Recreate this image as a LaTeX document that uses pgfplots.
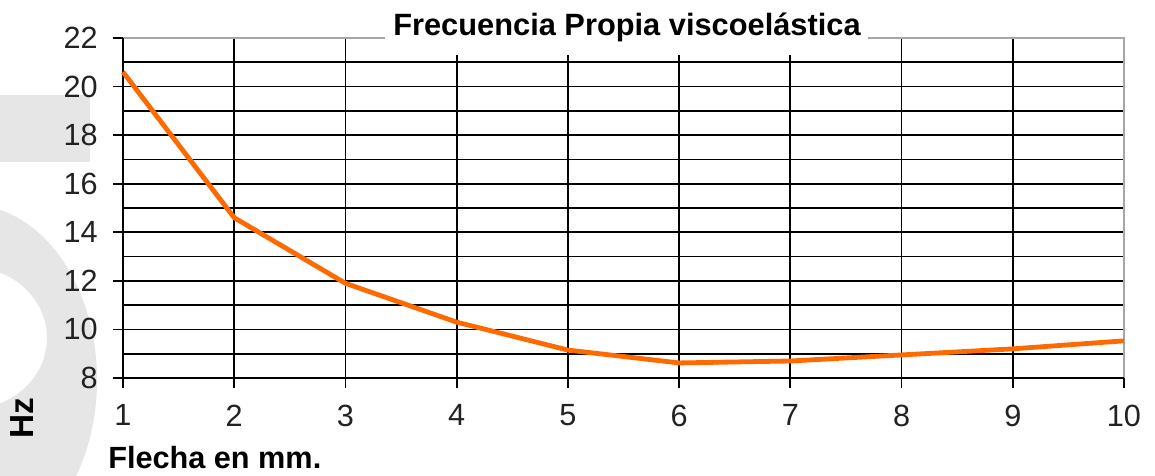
\documentclass[border=0pt]{standalone}
\usepackage{fontspec}
\setmainfont{Liberation Sans}
\usepackage{pgfplots}
\pgfplotsset{compat=1.18}
\definecolor{curve}{HTML}{FF6A00}
\definecolor{wm}{HTML}{E6E6E6}
\definecolor{tk}{HTML}{222222}
\begin{document}
\begin{tikzpicture}[x=0.75pt,y=0.75pt]
\useasboundingbox (0,0) rectangle (1155,475);
\begin{scope}
\clip (0,0) rectangle (1155,475);
\fill[wm] (0,313) rectangle (90,380);
\fill[wm,even odd rule] (-30,95) ellipse [x radius=127, y radius=175] (-30,137) ellipse [x radius=77, y radius=71];
\end{scope}
\begin{axis}[
 at={(92.25pt,72.75pt)}, anchor=south west, scale only axis,
 width=750.75pt, height=255pt,
 xmin=1, xmax=10, ymin=8, ymax=22,
 xtick={1,...,9}, extra x ticks={10}, extra x tick style={grid=none},
 ytick={8,10,...,20}, extra y ticks={22}, extra y tick style={grid=none},
 minor ytick={9,11,...,21},
 grid=both,
 major grid style={black, line width=1.3pt},
 minor grid style={black, line width=1.3pt},
 axis line style={draw=none},
 tick align=outside, tick pos=left,
 major tick length=7.5pt, minor tick length=0pt,
 tick style={black, line width=1.3pt},
 ticklabel style={font=\fontsize{23}{23}\selectfont, text=tk},
 yticklabel style={xshift=-8pt},
 xticklabel style={yshift=-9pt},
 /pgf/number format/assume math mode=true,
 clip=false,
]
\draw[gray!70, line width=1.2pt] (rel axis cs:0,1) -- (rel axis cs:1,1) -- (rel axis cs:1,0);
\draw[black, line width=1.3pt] (rel axis cs:0,1) -- (rel axis cs:0,0) -- (rel axis cs:1,0);
\addplot[curve, line width=3.6pt, line join=round] coordinates {(1,20.6)(2,14.6)(3,11.9)(4,10.3)(5,9.15)(6,8.62)(7,8.7)(8,8.95)(9,9.2)(10,9.53)};
\end{axis}
\fill[white] (385,420) rectangle (868,475);
\node[font=\bfseries\fontsize{23.1}{23.1}\selectfont, anchor=base] at (627,439) {Frecuencia Propia viscoelástica};
\node[font=\bfseries\fontsize{25}{25}\selectfont, rotate=90] at (22,57) {Hz};
\node[font=\bfseries\fontsize{23}{23}\selectfont, anchor=base west, inner sep=0pt] at (108,7) {Flecha en mm.};
\end{tikzpicture}
\end{document}
